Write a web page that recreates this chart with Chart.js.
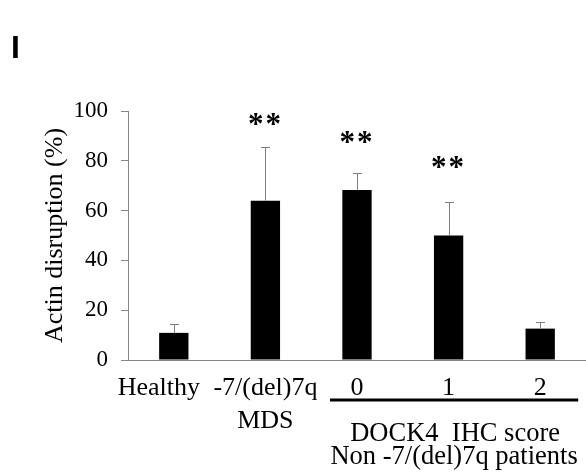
<!DOCTYPE html>
<html>
<head>
<meta charset="utf-8">
<script src="https://cdn.jsdelivr.net/npm/chart.js@4"></script>
<style>
  html, body { margin: 0; padding: 0; background: #fff; font-family: "Liberation Serif", serif; }
  #wrap { width: 586px; height: 475px; }
</style>
</head>
<body>
<div id="wrap"><canvas id="chart"></canvas></div>
<script>
const groups = ['Healthy', ['-7/(del)7q', 'MDS'], '0', '1', '2'];
const means = [10.9, 64.0, 68.3, 50.0, 12.6];
const upperErr = [14.3, 85.4, 75.0, 63.6, 15.3];
const stars = ['', '**', '**', '**', ''];
const starLevel = [null, 97, 90, 80, null];
const yTicks = [0, 20, 40, 60, 80, 100];
const bracketGroups = [2, 4];
const bracketTitle = ['DOCK4  IHC score', 'Non -7/(del)7q patients'];

const serif = '"Liberation Serif", "Times New Roman", serif';
const axisGrey = '#868686';

// error bars, asterisks, x labels, bracket and panel letter
const extras = {
  id: 'extras',
  afterDatasetsDraw(chart) {
    const ctx = chart.ctx;
    const x = chart.scales.x, y = chart.scales.y;
    const bars = chart.getDatasetMeta(0).data;
    const base = chart.chartArea.bottom;
    ctx.save();

    ctx.strokeStyle = '#7f7f7f';
    ctx.lineWidth = 1;
    bars.forEach((b, i) => {
      const top = Math.round(y.getPixelForValue(upperErr[i])) + 0.5;
      const cx = Math.round(b.x) + 0.5;
      ctx.beginPath();
      ctx.moveTo(cx, b.y);
      ctx.lineTo(cx, top);
      ctx.moveTo(cx - 4.5, top);
      ctx.lineTo(cx + 4.5, top);
      ctx.stroke();
    });

    ctx.fillStyle = '#000';
    ctx.textAlign = 'center';
    ctx.textBaseline = 'alphabetic';
    ctx.font = 'bold 31px ' + serif;
    ctx.letterSpacing = '2px';
    stars.forEach((s, i) => {
      if (!s) return;
      ctx.fillText(s, x.getPixelForValue(i), y.getPixelForValue(starLevel[i]) + 16);
    });
    ctx.letterSpacing = '0px';

    ctx.font = '26px ' + serif;
    groups.forEach((g, i) => {
      let px = x.getPixelForValue(i);
      if (i === 0) px -= 15; // keep clear of the next label
      [].concat(g).forEach((t, k) => ctx.fillText(t, px, base + 35 + k * 33));
    });

    const x0 = x.getPixelForValue(bracketGroups[0]) - 27;
    const x1 = x.getPixelForValue(bracketGroups[1]) + 38;
    ctx.fillRect(x0, base + 38.5, x1 - x0, 3);
    ctx.font = '26.5px ' + serif;
    const mid = (x0 + x1) / 2;
    ctx.fillText(bracketTitle[0], mid + 1, base + 81);
    ctx.fillText(bracketTitle[1], mid, base + 104);

    ctx.font = 'bold 32px "Liberation Sans", Arial, sans-serif';
    ctx.textAlign = 'left';
    ctx.fillText('I', 11, 58);
    ctx.restore();
  }
};

function draw() {
  new Chart(document.getElementById('chart'), {
    type: 'bar',
    data: {
      labels: groups,
      datasets: [{
        data: means,
        backgroundColor: '#000',
        borderWidth: 0,
        categoryPercentage: 1,
        barPercentage: 0.32
      }]
    },
    plugins: [extras],
    options: {
      responsive: true,
      maintainAspectRatio: false,
      animation: false,
      layout: { padding: { top: 111, left: 0, right: 0, bottom: 0 } },
      plugins: { legend: { display: false }, tooltip: { enabled: false } },
      scales: {
        x: {
          grid: { display: false },
          border: { color: axisGrey, width: 1 },
          ticks: { display: false },
          afterFit(scale) { scale.height = 115; }
        },
        y: {
          min: 0,
          max: 100,
          afterBuildTicks(scale) { scale.ticks = yTicks.map(v => ({ value: v })); },
          grid: { drawOnChartArea: false, drawTicks: true, tickLength: 7, color: axisGrey },
          border: { color: axisGrey, width: 1 },
          ticks: { color: '#000', padding: 13, font: { family: serif, size: 23 } },
          title: {
            display: true,
            text: 'Actin disruption (%)',
            color: '#000',
            font: { family: serif, size: 26 },
            padding: { top: 40, bottom: 0 }
          },
          afterFit(scale) { scale.width = 128; }
        }
      }
    }
  });
}

Promise.all([
  document.fonts.load('26px "Liberation Serif"'),
  document.fonts.load('bold 31px "Liberation Serif"'),
  document.fonts.load('bold 32px "Liberation Sans"')
]).then(draw, draw);
</script>
</body>
</html>
